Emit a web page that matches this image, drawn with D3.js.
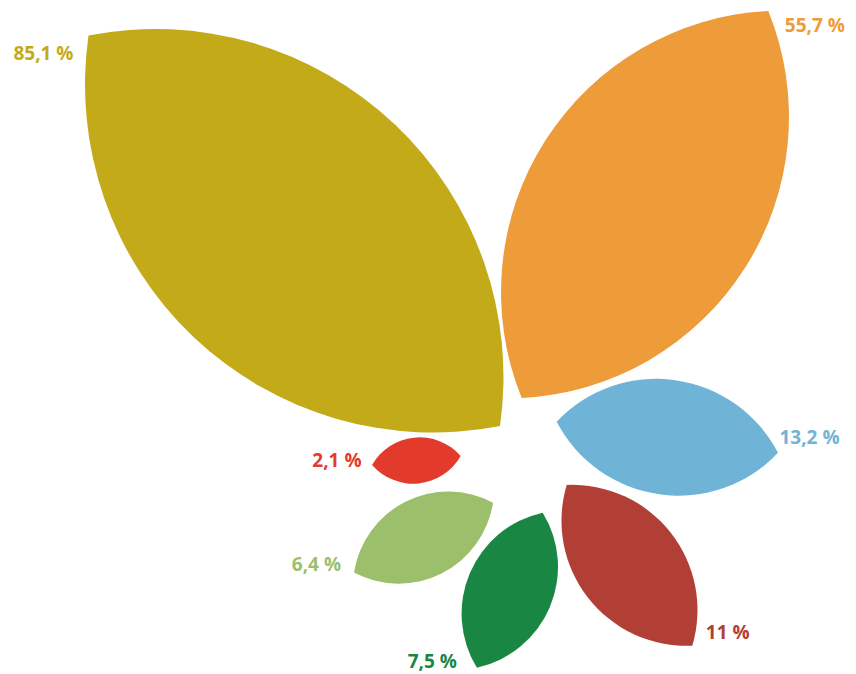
<!DOCTYPE html>
<html>
<head>
<meta charset="utf-8">
<script src="https://cdn.jsdelivr.net/npm/d3@7"></script>
<style>
  html, body { margin: 0; padding: 0; background: #ffffff; }
  svg { display: block; }
  text { font-family: "Open Sans", "Noto Sans", sans-serif; font-weight: 700; }
</style>
</head>
<body>
<svg id="chart" width="856" height="674"></svg>
<script>
// ---- data ----
const categories = ["A", "B", "C", "D", "E", "F", "G"];
const values = [85.1, 55.7, 13.2, 11, 7.5, 6.4, 2.1];

// ---- styles ----
const colors = ["#C3AA18", "#EE9B39", "#6FB4D7", "#B23F35", "#1A8643", "#9BBF6B", "#E23B2C"];

// ---- layout (placement of each petal around the centre) ----
const petalAngle = [223.5, 302.5, 8.0, 52.0, 113.0, 153.3, 174.2];          // direction, degrees
const anchorOffset = [[-20, -29], [1.7, -57], [36.7, -33.3], [46.7, 30], [22.7, 57.7], [-27, 47.7], [-59.3, 1]];
const labelSide = ["end", "start", "start", "start", "end", "end", "end"];
const labelOffset = [[-15, 25], [16.5, 20.7], [1.5, -8.7], [13.5, -6.3], [-20, 0.6], [-13, -1.6], [-10.5, 2.3]];

const center = [520, 455];
const svg = d3.select("#chart");

// petal length ~ sqrt(value) (area proportional to value)
const lengthScale = d3.scaleSqrt().domain([0, 100]).range([0, 615]);
const widthRatio = 0.258; // sagitta / length of each arc

function lensPath(L) {
  const s = widthRatio * L;
  const R = (L * L / 4 + s * s) / (2 * s);
  return `M0,0 A${R},${R} 0 0 1 ${L},0 A${R},${R} 0 0 1 0,0 Z`;
}

const fmt = v => String(v).replace(".", ",") + " %";

const items = values.map((v, i) => {
  const L = lengthScale(v);
  const a = petalAngle[i] * Math.PI / 180;
  const bx = center[0] + anchorOffset[i][0];
  const by = center[1] + anchorOffset[i][1];
  return {
    cat: categories[i], value: v, color: colors[i], L,
    bx, by, angle: petalAngle[i],
    tx: bx + L * Math.cos(a), ty: by + L * Math.sin(a), i
  };
});

svg.append("g").selectAll("path")
  .data(items)
  .join("path")
  .attr("d", d => lensPath(d.L))
  .attr("transform", d => `translate(${d.bx},${d.by}) rotate(${d.angle})`)
  .attr("fill", d => d.color);

svg.append("g").selectAll("text")
  .data(items)
  .join("text")
  .attr("x", d => d.tx + labelOffset[d.i][0])
  .attr("y", d => d.ty + labelOffset[d.i][1])
  .attr("text-anchor", d => labelSide[d.i])
  .attr("font-size", 19)
  .attr("fill", d => d.color)
  .text(d => fmt(d.value));
</script>
</body>
</html>
